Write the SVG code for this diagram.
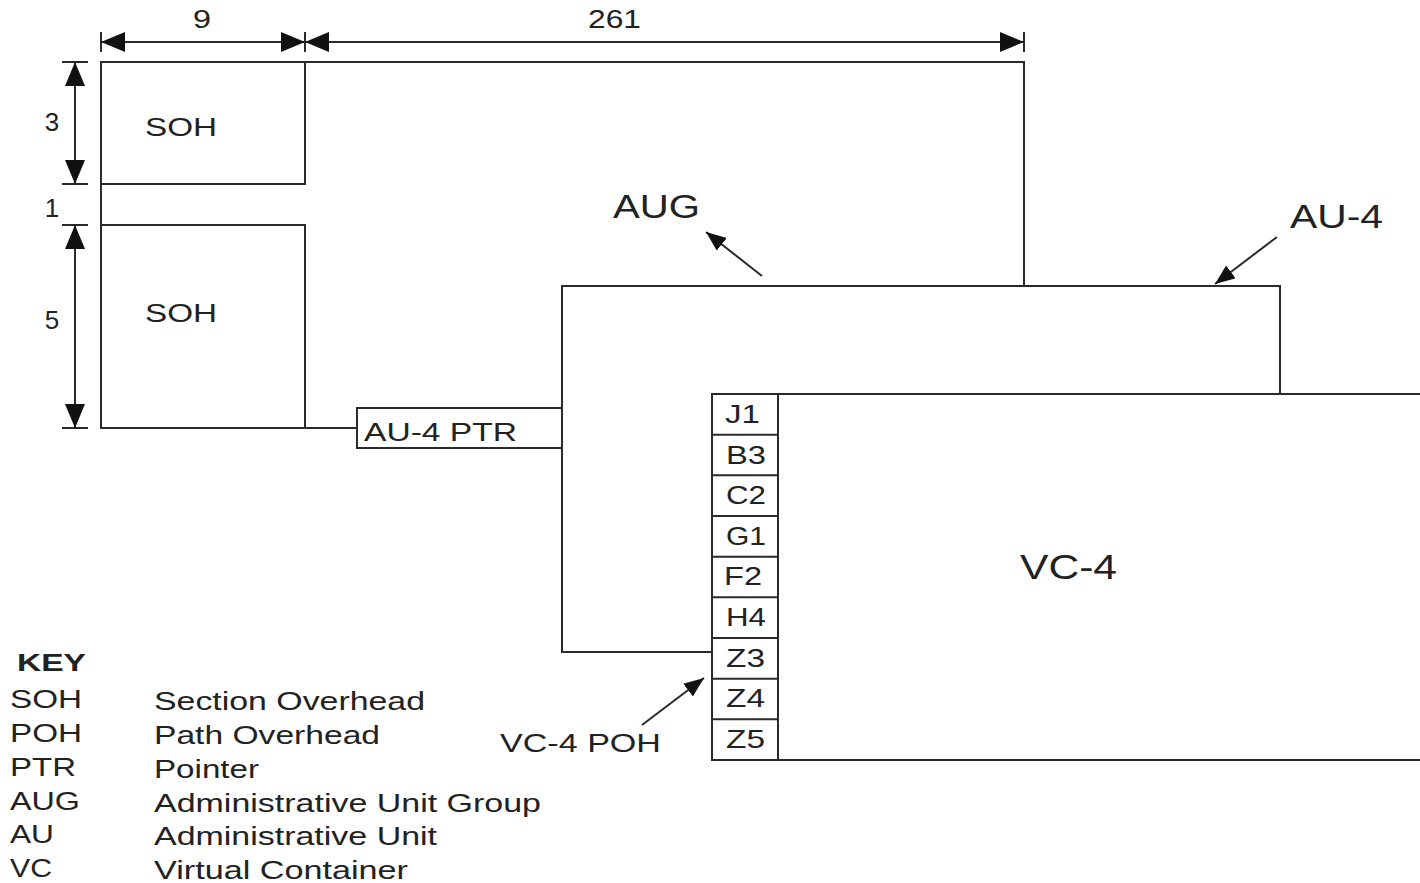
<svg xmlns="http://www.w3.org/2000/svg" width="1420" height="883" viewBox="0 0 1420 883">
<style>
.ln{stroke:#2a2a2a;stroke-width:2;fill:none}
.bx{stroke:#2a2a2a;stroke-width:2;fill:#fff}
text{font-family:"Liberation Sans",Arial,sans-serif;fill:#222}
.lab{font-size:26px}
.poh{font-size:25px}
.key{font-size:26px}
</style>
<defs>
<marker id="ah" markerWidth="24" markerHeight="20" refX="24" refY="10" orient="auto" markerUnits="userSpaceOnUse">
<path d="M0,0 L24,10 L0,20 Z" fill="#111"/>
</marker>
<marker id="ahs" markerWidth="20" markerHeight="16" refX="20" refY="8" orient="auto" markerUnits="userSpaceOnUse">
<path d="M0,0 L20,8 L0,16 Z" fill="#111"/>
</marker>
</defs>
<rect width="1420" height="883" fill="#fff"/>

<g id="aug-frame">
<path class="ln" d="M101,62 H1024 V286 M101,62 V428 H357"/>
</g>
<g id="soh1">
<rect class="bx" x="101" y="62" width="204" height="122"/>
<text class="lab" x="145" y="136" textLength="72" lengthAdjust="spacingAndGlyphs">SOH</text>
</g>
<g id="soh2">
<rect class="bx" x="101" y="225" width="204" height="203"/>
<text class="lab" x="145" y="322" textLength="72" lengthAdjust="spacingAndGlyphs">SOH</text>
</g>
<g id="au4">
<rect class="bx" x="562" y="286" width="718" height="366"/>
</g>
<g id="au4ptr">
<rect class="bx" x="357" y="408" width="205" height="40"/>
<text class="lab" x="364" y="441" font-size="25" textLength="153" lengthAdjust="spacingAndGlyphs">AU-4 PTR</text>
</g>
<g id="vc4">
<rect class="bx" x="712" y="394" width="720" height="366"/>
<text x="1020" y="579" font-size="35" textLength="97" lengthAdjust="spacingAndGlyphs">VC-4</text>
</g>
<g id="vc4-poh">
<rect class="bx" x="712" y="394" width="66" height="366"/>
<path class="ln" d="M712,434.7 H778 M712,475.3 H778 M712,516 H778 M712,556.7 H778 M712,597.3 H778 M712,638 H778 M712,678.7 H778 M712,719.3 H778"/>
<text class="poh" x="725" y="423" textLength="35" lengthAdjust="spacingAndGlyphs">J1</text>
<text class="poh" x="726" y="464" textLength="40" lengthAdjust="spacingAndGlyphs">B3</text>
<text class="poh" x="726" y="504" textLength="40" lengthAdjust="spacingAndGlyphs">C2</text>
<text class="poh" x="726" y="545" textLength="40" lengthAdjust="spacingAndGlyphs">G1</text>
<text class="poh" x="724" y="585" textLength="38" lengthAdjust="spacingAndGlyphs">F2</text>
<text class="poh" x="726" y="626" textLength="40" lengthAdjust="spacingAndGlyphs">H4</text>
<text class="poh" x="726" y="667" textLength="39" lengthAdjust="spacingAndGlyphs">Z3</text>
<text class="poh" x="726" y="707" textLength="39" lengthAdjust="spacingAndGlyphs">Z4</text>
<text class="poh" x="726" y="748" textLength="39" lengthAdjust="spacingAndGlyphs">Z5</text>
</g>
<g id="au4-join">
<path class="ln" d="M562,652 H712"/>
</g>

<g id="dimensions">
<path class="ln" d="M101,32 V52 M305,32 V52 M1024,32 V52 M62,62 H88 M62,184 H88 M62,225 H88 M62,428 H88"/>
<line class="ln" x1="203" y1="42" x2="101" y2="42" marker-end="url(#ah)"/>
<line class="ln" x1="203" y1="42" x2="305" y2="42" marker-end="url(#ah)"/>
<line class="ln" x1="664" y1="42" x2="305" y2="42" marker-end="url(#ah)"/>
<line class="ln" x1="664" y1="42" x2="1024" y2="42" marker-end="url(#ah)"/>
<line class="ln" x1="75" y1="123" x2="75" y2="62" marker-end="url(#ah)"/>
<line class="ln" x1="75" y1="123" x2="75" y2="184" marker-end="url(#ah)"/>
<line class="ln" x1="75" y1="326" x2="75" y2="225" marker-end="url(#ah)"/>
<line class="ln" x1="75" y1="326" x2="75" y2="428" marker-end="url(#ah)"/>
<text class="lab" x="193" y="28" textLength="18" lengthAdjust="spacingAndGlyphs">9</text>
<text class="lab" x="588" y="28" textLength="53" lengthAdjust="spacingAndGlyphs">261</text>
<text class="lab" x="52" y="131" text-anchor="middle">3</text>
<text class="lab" x="52" y="217" text-anchor="middle">1</text>
<text class="lab" x="52" y="329" text-anchor="middle">5</text>
</g>

<g id="connectors">
<line class="ln" x1="762" y1="276" x2="706" y2="232" marker-end="url(#ahs)"/>
<line class="ln" x1="1277" y1="237" x2="1215" y2="284" marker-end="url(#ahs)"/>
<line class="ln" x1="642" y1="725" x2="704" y2="678" marker-end="url(#ahs)"/>
</g>
<g id="labels">
<text x="613" y="218" font-size="33" textLength="87" lengthAdjust="spacingAndGlyphs">AUG</text>
<text x="1290" y="228" font-size="33" textLength="93" lengthAdjust="spacingAndGlyphs">AU-4</text>
<text class="lab" x="500" y="752" textLength="161" lengthAdjust="spacingAndGlyphs">VC-4 POH</text>
</g>

<g id="key">
<text x="17" y="671" font-size="24" font-weight="bold" textLength="69" lengthAdjust="spacingAndGlyphs">KEY</text>
<text class="key" x="10" y="708" textLength="72" lengthAdjust="spacingAndGlyphs">SOH</text><text class="key" x="154" y="710" textLength="271" lengthAdjust="spacingAndGlyphs">Section Overhead</text>
<text class="key" x="10" y="742" textLength="72" lengthAdjust="spacingAndGlyphs">POH</text><text class="key" x="154" y="744" textLength="226" lengthAdjust="spacingAndGlyphs">Path Overhead</text>
<text class="key" x="10" y="776" textLength="66" lengthAdjust="spacingAndGlyphs">PTR</text><text class="key" x="154" y="778" textLength="105" lengthAdjust="spacingAndGlyphs">Pointer</text>
<text class="key" x="10" y="810" textLength="70" lengthAdjust="spacingAndGlyphs">AUG</text><text class="key" x="154" y="812" textLength="387" lengthAdjust="spacingAndGlyphs">Administrative Unit Group</text>
<text class="key" x="10" y="843" textLength="44" lengthAdjust="spacingAndGlyphs">AU</text><text class="key" x="154" y="845" textLength="283" lengthAdjust="spacingAndGlyphs">Administrative Unit</text>
<text class="key" x="10" y="877" textLength="42" lengthAdjust="spacingAndGlyphs">VC</text><text class="key" x="154" y="879" textLength="254" lengthAdjust="spacingAndGlyphs">Virtual Container</text>
</g>
</svg>
